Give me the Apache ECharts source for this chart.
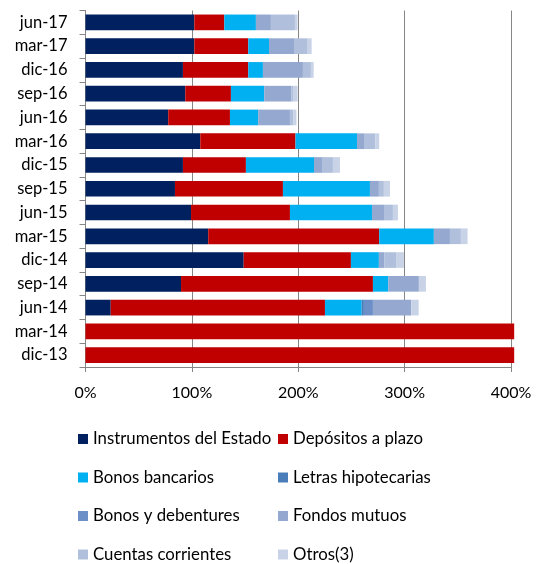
<!DOCTYPE html>
<html>
<head>
<meta charset="utf-8">
<script src="https://cdn.jsdelivr.net/npm/echarts@6/dist/echarts.min.js"></script>
<style>
  html, body { margin: 0; padding: 0; background: #fff; }
  #chart { width: 536px; height: 564px; }
</style>
</head>
<body>
<div id="chart"></div>
<script>
// categorias (de abajo hacia arriba)
const categories = ['dic-13', 'mar-14', 'jun-14', 'sep-14', 'dic-14', 'mar-15', 'jun-15', 'sep-15',
  'dic-15', 'mar-16', 'jun-16', 'sep-16', 'dic-16', 'mar-17', 'jun-17']

// valores en %
const instrumentosEstado = [0, 0, 23.7, 89.8, 148.7, 115.4, 99.2, 84.1, 91.6, 107.9, 77.8, 93.8, 91.6, 102.3, 102.3]
const depositosPlazo = [403, 403, 201.4, 180.4, 100.8, 160.7, 93.0, 101.5, 59.2, 89.5, 58.0, 42.9, 61.4, 50.7, 28.2]
const bonosBancarios = [0, 0, 34.5, 14.4, 26.3, 51.4, 77.1, 81.8, 64.0, 57.8, 26.5, 31.3, 13.8, 19.5, 29.7]
const letrasHipotecarias = [0, 0, 2.1, 0, 0, 0, 0, 0, 0, 0, 0, 0, 0, 0, 0]
const bonosDebentures = [0, 0, 8.5, 0, 0, 0, 0, 0, 0, 0, 0, 0, 0, 0, 0]
const fondosMutuos = [0, 0, 36.0, 28.8, 5.0, 15.1, 11.3, 8.4, 7.5, 6.6, 29.9, 25.4, 37.6, 23.5, 14.1]
const cuentasCorrientes = [0, 0, 0, 0, 11.7, 10.3, 8.4, 4.7, 10.3, 10.6, 3.3, 2.3, 7.5, 12.2, 22.6]
const otros = [0, 0, 7.0, 6.6, 6.8, 6.3, 4.7, 5.7, 6.6, 3.7, 2.8, 3.7, 2.6, 4.4, 2.5]

const xTicks = [0, 100, 200, 300, 400]

const seriesDef = [
  { name: 'Instrumentos del Estado', data: instrumentosEstado, color: '#002060' },
  { name: 'Depósitos a plazo', data: depositosPlazo, color: '#C00000' },
  { name: 'Bonos bancarios', data: bonosBancarios, color: '#00B0F0' },
  { name: 'Letras hipotecarias', data: letrasHipotecarias, color: '#4A7EBB' },
  { name: 'Bonos y debentures', data: bonosDebentures, color: '#6B8FC6' },
  { name: 'Fondos mutuos', data: fondosMutuos, color: '#95A9D0' },
  { name: 'Cuentas corrientes', data: cuentasCorrientes, color: '#B0C0DC' },
  { name: 'Otros(3)', data: otros, color: '#C9D3E7' }
]

const font = 'Lato, "Liberation Sans", sans-serif'
const legendText = { color: '#000', fontFamily: font, fontSize: 16.8, lineHeight: 18 }

const myChart = echarts.init(document.getElementById('chart'))

const legendBase = {
  orient: 'vertical',
  top: 430,
  height: 140,
  icon: 'rect',
  itemWidth: 10,
  itemHeight: 10,
  itemGap: 20.5,
  padding: 0,
  textStyle: legendText
}

const option = {
  animation: false,
  grid: {
    left: 85.5,
    right: 25,
    top: 10.5,
    bottom: 197
  },
  legend: [
    Object.assign({}, legendBase, {
      left: 78,
      data: ['Instrumentos del Estado', 'Bonos bancarios', 'Bonos y debentures', 'Cuentas corrientes']
    }),
    Object.assign({}, legendBase, {
      left: 278,
      data: ['Depósitos a plazo', 'Letras hipotecarias', 'Fondos mutuos', 'Otros(3)']
    })
  ],
  xAxis: {
    type: 'value',
    min: xTicks[0],
    max: xTicks[xTicks.length - 1],
    interval: 100,
    axisLine: { show: true, lineStyle: { color: '#868686', width: 1 } },
    axisTick: { show: true, length: 5, lineStyle: { color: '#868686' } },
    splitLine: { show: true, lineStyle: { color: '#868686', width: 1 } },
    axisLabel: {
      margin: 18,
      color: '#000',
      fontFamily: font,
      fontSize: 16,
      formatter: v => v + '%'
    }
  },
  yAxis: {
    type: 'category',
    data: categories,
    axisLine: { show: true, lineStyle: { color: '#868686', width: 1 } },
    axisTick: { show: true, length: 6, lineStyle: { color: '#868686' } },
    axisLabel: {
      margin: 18,
      color: '#000',
      fontFamily: font,
      fontSize: 16.5
    }
  },
  series: seriesDef.map(s => ({
    name: s.name,
    type: 'bar',
    stack: 'total',
    barWidth: '66%',
    clip: false,
    itemStyle: { color: s.color },
    data: s.data
  }))
}

option && myChart.setOption(option)
</script>
</body>
</html>
